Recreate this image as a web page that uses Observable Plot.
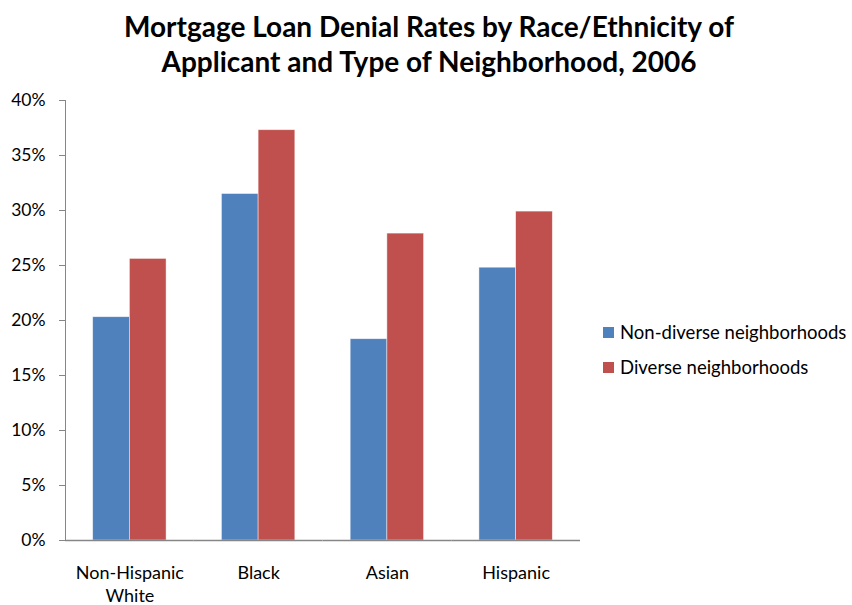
<!DOCTYPE html>
<html><head><meta charset="utf-8">
<script src="https://cdn.jsdelivr.net/npm/d3@7"></script>
<script src="https://cdn.jsdelivr.net/npm/@observablehq/plot@0.6"></script>
<style>
body{margin:0;background:#fff;font-family:Lato, sans-serif;}
#wrap{position:relative;width:852px;height:605px;overflow:hidden;}
#title{position:absolute;left:0;top:9px;width:858px;text-align:center;font-weight:bold;font-size:28px;line-height:35px;color:#000;}
#chart{position:absolute;left:0;top:85px;}
#legend{position:absolute;left:603px;top:321px;}
#legend .lg-swatch{margin-bottom:12px;}
#legend .lg-swatch svg{margin-right:6px;}
</style></head><body>
<div id="wrap">
<div id="title">Mortgage Loan Denial Rates by Race/Ethnicity of<br>Applicant and Type of Neighborhood, 2006</div>
<div id="chart"></div>
<div id="legend"></div>
</div>
<script>
const categories = ["Non-Hispanic White", "Black", "Asian", "Hispanic"];
const xTickLabels = ["Non-Hispanic\nWhite", "Black", "Asian", "Hispanic"];
const series = ["Non-diverse neighborhoods", "Diverse neighborhoods"];
const nonDiverse = [0.203, 0.315, 0.183, 0.248];
const diverse = [0.256, 0.373, 0.279, 0.299];
const colors = ["#4F81BD", "#C0504D"];
const yTicks = [0, 0.05, 0.10, 0.15, 0.20, 0.25, 0.30, 0.35, 0.40];

const data = categories.flatMap((c, i) => [
  {category: c, series: series[0], value: nonDiverse[i]},
  {category: c, series: series[1], value: diverse[i]}
]);

const chart = Plot.plot({
  width: 580, height: 520,
  marginLeft: 65, marginRight: 0, marginTop: 15, marginBottom: 65,
  style: {fontFamily: "Lato, sans-serif", fontSize: "17.5px", color: "#000", background: "#fff", overflow: "visible"},
  fx: {domain: categories, padding: 0, round: false, label: null},
  x: {domain: series, paddingInner: 0, paddingOuter: 0.754, round: false, axis: null},
  y: {domain: [0, 0.4], label: null},
  color: {domain: series, range: colors},
  marks: [
    Plot.barY(data, {fx: "category", x: "series", y: "value", fill: "series", stroke: "#fff", strokeOpacity: 0.6, strokeWidth: 0.75}),
    Plot.ruleY([0], {stroke: "#868686", strokeWidth: 1.3}),
    Plot.axisY({ticks: yTicks, tickFormat: d3.format(".0%"), tickSize: 6, tickPadding: 14, stroke: "#868686", fill: "#000", fontSize: 17.5, label: null}),
    Plot.axisFx({anchor: "bottom", tickSize: 0, tickPadding: 21, tickFormat: d => xTickLabels[categories.indexOf(d)], lineHeight: 1.33, fontSize: 18, fill: "#000", label: null}),
    Plot.frame({anchor: "left", stroke: "#868686", facetAnchor: "left"})
  ]
});
document.getElementById("chart").appendChild(chart);

const legend = Plot.legend({
  color: {domain: series, range: colors},
  legend: "swatches", columns: 1, swatchSize: 11, className: "lg",
  style: {fontFamily: "Lato, sans-serif", fontSize: "18.5px", color: "#000"}
});
document.getElementById("legend").appendChild(legend);
</script>
</body></html>
